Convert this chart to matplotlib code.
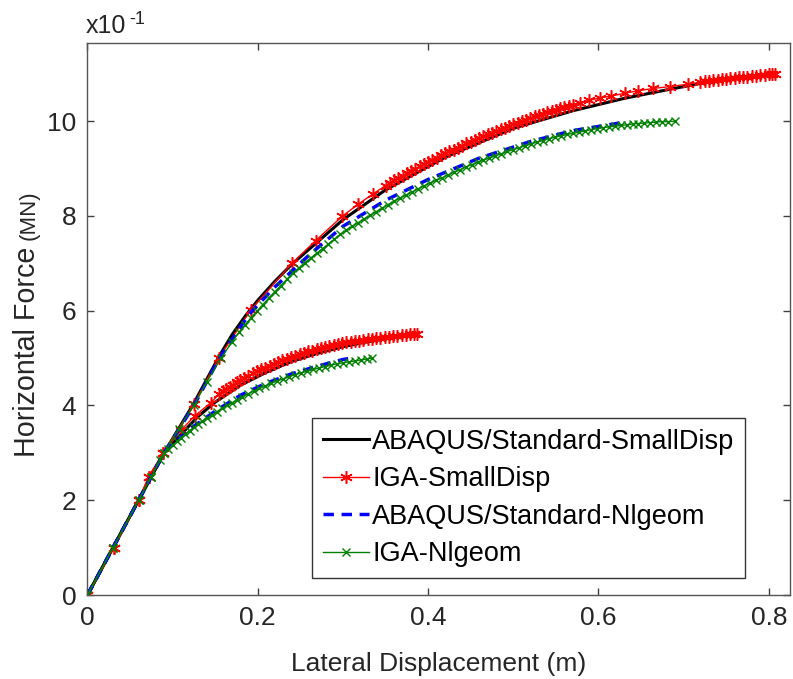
import matplotlib
matplotlib.use("Agg")
import matplotlib.pyplot as plt

plt.rcParams['font.family'] = ['Liberation Sans', 'DejaVu Sans']

# ---- data (force in units of 1e-1 MN) ----
# ABAQUS/Standard small displacement, high and low load
abq_sd_hi_x = [0, 0.03, 0.06, 0.09, 0.125, 0.155, 0.17, 0.185, 0.20, 0.22, 0.24, 0.27, 0.30, 0.35,
               0.42, 0.50, 0.57, 0.63, 0.68, 0.73, 0.80]
abq_sd_hi_y = [0, 1.0, 2.0, 3.0, 4.05, 5.05, 5.5, 5.88, 6.22, 6.62, 6.98, 7.45, 7.92, 8.55,
               9.24, 9.85, 10.22, 10.48, 10.66, 10.83, 11.0]
abq_sd_lo_x = [0, 0.03, 0.06, 0.09, 0.10, 0.113, 0.13, 0.15, 0.18, 0.21, 0.24, 0.27, 0.30, 0.33, 0.36, 0.375]
abq_sd_lo_y = [0, 1.0, 2.0, 3.0, 3.2, 3.45, 3.77, 4.07, 4.43, 4.70, 4.93, 5.10, 5.24, 5.35, 5.43, 5.46]

# IGA small displacement
iga_sd_hi_x = [0, 0.031, 0.060, 0.072, 0.089, 0.125, 0.154, 0.192, 0.240, 0.268, 0.299, 0.318, 0.335,
               0.350, 0.355, 0.360, 0.365, 0.370, 0.375, 0.380, 0.385, 0.390, 0.395, 0.400, 0.405,
               0.410, 0.415, 0.420, 0.425, 0.430, 0.435, 0.440, 0.445, 0.450, 0.455, 0.460, 0.465,
               0.470, 0.475, 0.480, 0.485, 0.490, 0.495, 0.500, 0.505, 0.510, 0.515, 0.520, 0.525,
               0.530, 0.535, 0.540, 0.545, 0.550, 0.555, 0.560, 0.565, 0.570,
               0.578, 0.589, 0.602, 0.615, 0.631, 0.646, 0.664, 0.684, 0.705, 0.719,
               0.725, 0.730, 0.735, 0.740, 0.745, 0.750, 0.755, 0.760, 0.765, 0.770, 0.775,
               0.780, 0.785, 0.790, 0.795, 0.800, 0.804, 0.807]
iga_sd_hi_y = [0, 1.0, 2.0, 2.5, 3.0, 4.03, 5.0, 6.02, 7.0, 7.48, 7.99, 8.25, 8.46,
               8.64, 8.69, 8.75, 8.80, 8.85, 8.90, 8.95, 9.00, 9.05, 9.09, 9.14, 9.19,
               9.23, 9.28, 9.32, 9.36, 9.40, 9.44, 9.48, 9.53, 9.57, 9.60, 9.64, 9.68,
               9.72, 9.76, 9.79, 9.83, 9.86, 9.90, 9.93, 9.97, 10.00, 10.03, 10.06, 10.10,
               10.13, 10.16, 10.19, 10.21, 10.24, 10.27, 10.30, 10.32, 10.35,
               10.39, 10.44, 10.49, 10.53, 10.59, 10.64, 10.69, 10.73, 10.78, 10.82,
               10.84, 10.85, 10.86, 10.87, 10.88, 10.90, 10.91, 10.92, 10.93, 10.93, 10.94,
               10.95, 10.96, 10.97, 10.98, 10.99, 11.0, 11.0]
iga_sd_lo_x = [0, 0.031, 0.060, 0.072, 0.089, 0.110, 0.126, 0.145,
               0.155, 0.159, 0.163, 0.167, 0.171, 0.175, 0.179, 0.184, 0.189, 0.194, 0.199,
               0.204, 0.209, 0.214, 0.219, 0.224, 0.229, 0.234, 0.239, 0.244, 0.249, 0.254,
               0.259, 0.264, 0.269, 0.274, 0.279, 0.284, 0.289, 0.294, 0.299, 0.304, 0.309,
               0.314, 0.319, 0.324, 0.329, 0.334, 0.339, 0.344, 0.349, 0.354, 0.359, 0.364,
               0.369, 0.374, 0.379, 0.384, 0.387]
iga_sd_lo_y = [0, 1.0, 2.0, 2.5, 3.0, 3.48, 3.78, 4.06,
               4.25, 4.30, 4.35, 4.40, 4.44, 4.49, 4.53, 4.58, 4.63, 4.68, 4.72,
               4.76, 4.80, 4.84, 4.88, 4.92, 4.95, 4.99, 5.02, 5.05, 5.08, 5.11,
               5.14, 5.16, 5.19, 5.21, 5.23, 5.25, 5.27, 5.29, 5.31, 5.33, 5.34,
               5.36, 5.37, 5.38, 5.40, 5.41, 5.42, 5.43, 5.44, 5.45, 5.46, 5.47,
               5.48, 5.49, 5.50, 5.51, 5.51]

# ABAQUS/Standard Nlgeom
abq_nl_hi_x = [0, 0.03, 0.06, 0.09, 0.125, 0.155, 0.19, 0.22, 0.26, 0.30, 0.35, 0.40, 0.46, 0.52, 0.57, 0.628]
abq_nl_hi_y = [0, 1.0, 2.0, 3.0, 4.0, 5.0, 5.93, 6.5, 7.17, 7.78, 8.33, 8.77, 9.22, 9.57, 9.80, 9.97]
abq_nl_lo_x = [0, 0.03, 0.06, 0.09, 0.10, 0.12, 0.15, 0.18, 0.21, 0.24, 0.27, 0.30, 0.31]
abq_nl_lo_y = [0, 1.0, 2.0, 3.0, 3.18, 3.50, 3.88, 4.22, 4.47, 4.67, 4.83, 4.97, 5.0]

# IGA Nlgeom
iga_nl_hi_x = [0, 0.03, 0.06, 0.075, 0.09, 0.107, 0.125, 0.14, 0.157, 0.17, 0.178,
               0.185, 0.192, 0.199, 0.206, 0.213, 0.220, 0.227, 0.234, 0.241, 0.248, 0.255,
               0.262, 0.269, 0.276, 0.283, 0.290, 0.297, 0.304, 0.311, 0.318, 0.325, 0.332,
               0.339, 0.346, 0.353, 0.360, 0.367, 0.374, 0.381, 0.388, 0.395, 0.402, 0.409,
               0.416, 0.423, 0.430, 0.437, 0.444, 0.451, 0.458, 0.465, 0.472, 0.479, 0.486,
               0.493, 0.500, 0.507, 0.514, 0.521, 0.528, 0.535, 0.542, 0.549, 0.556, 0.563,
               0.570, 0.577, 0.584, 0.591, 0.598, 0.605, 0.612, 0.619, 0.626, 0.633, 0.640,
               0.647, 0.654, 0.661, 0.668, 0.675, 0.682, 0.690]
iga_nl_hi_y = [0, 1.0, 2.0, 2.5, 3.0, 3.5, 4.0, 4.5, 5.0, 5.35, 5.55,
               5.70, 5.85, 5.99, 6.13, 6.27, 6.40, 6.53, 6.66, 6.79, 6.90, 7.01,
               7.11, 7.21, 7.31, 7.41, 7.51, 7.61, 7.70, 7.78, 7.86, 7.94, 8.01,
               8.09, 8.16, 8.24, 8.31, 8.38, 8.44, 8.50, 8.57, 8.63, 8.69, 8.75,
               8.80, 8.86, 8.92, 8.97, 9.03, 9.08, 9.13, 9.18, 9.22, 9.27, 9.31,
               9.36, 9.40, 9.44, 9.48, 9.52, 9.56, 9.59, 9.63, 9.66, 9.69, 9.72,
               9.74, 9.77, 9.79, 9.82, 9.84, 9.86, 9.88, 9.89, 9.91, 9.92, 9.94,
               9.95, 9.96, 9.97, 9.98, 9.99, 9.99, 10.0]
iga_nl_lo_x = [0, 0.03, 0.06, 0.075, 0.085,
               0.090, 0.095, 0.100, 0.105, 0.110, 0.115, 0.120, 0.125, 0.130, 0.135, 0.140,
               0.146, 0.152, 0.158, 0.164, 0.170, 0.176, 0.182, 0.188, 0.195, 0.202, 0.209,
               0.216, 0.223, 0.230, 0.237, 0.244, 0.251, 0.258, 0.265, 0.272, 0.279, 0.286,
               0.293, 0.300, 0.307, 0.314, 0.321, 0.328, 0.334]
iga_nl_lo_y = [0, 1.0, 2.0, 2.5, 2.85,
               3.00, 3.08, 3.16, 3.24, 3.32, 3.40, 3.47, 3.54, 3.60, 3.67, 3.73,
               3.80, 3.87, 3.94, 4.00, 4.06, 4.12, 4.18, 4.24, 4.30, 4.36, 4.41,
               4.47, 4.52, 4.56, 4.61, 4.65, 4.69, 4.72, 4.76, 4.79, 4.82, 4.85,
               4.88, 4.90, 4.92, 4.94, 4.96, 4.98, 5.00]

x_ticks = [0, 0.2, 0.4, 0.6, 0.8]
x_tick_labels = ['0', '0.2', '0.4', '0.6', '0.8']
y_ticks = [0, 2, 4, 6, 8, 10]

fig = plt.figure(figsize=(7.93, 6.79), dpi=100)
ax = fig.add_axes([0.1103, 0.1237, 0.886, 0.813])

asterisk = (6, 2, 0)
ax.plot(abq_sd_hi_x, abq_sd_hi_y, color='black', lw=2.2, label='ABAQUS/Standard-SmallDisp')
ax.plot(abq_sd_lo_x, abq_sd_lo_y, color='black', lw=2.2)
ax.plot(iga_sd_hi_x, iga_sd_hi_y, color='red', lw=1, marker=asterisk, ms=9, mew=1.1,
        label='IGA-SmallDisp')
ax.plot(iga_sd_lo_x, iga_sd_lo_y, color='red', lw=1, marker=asterisk, ms=9, mew=1.1)
ax.plot(abq_nl_hi_x, abq_nl_hi_y, color='blue', lw=2.5, ls=(0, (3, 2.2)),
        label='ABAQUS/Standard-Nlgeom')
ax.plot(abq_nl_lo_x, abq_nl_lo_y, color='blue', lw=2.5, ls=(0, (3, 2.2)))
ax.plot(iga_nl_hi_x, iga_nl_hi_y, color='green', lw=1, marker='x', ms=5.5, mew=1,
        label='IGA-Nlgeom')
ax.plot(iga_nl_lo_x, iga_nl_lo_y, color='green', lw=1, marker='x', ms=5.5, mew=1)

ax.set_xlim(0, 0.825)
ax.set_ylim(0, 11.65)
ax.set_xticks(x_ticks)
ax.set_xticklabels(x_tick_labels)
ax.set_yticks(y_ticks)
ax.tick_params(direction='in', top=True, right=True, length=5, width=1,
               labelsize=19, colors='#404040', labelcolor='#262626', pad=8)
for sp in ax.spines.values():
    sp.set_color('#555555')
    sp.set_linewidth(1)

ax.set_xlabel('Lateral Displacement (m)', fontsize=19, color='#262626', labelpad=16)

# y label with smaller unit, and exponent note
fig.text(35 / 793, 1 - 457 / 679, 'Horizontal Force', rotation=90, rotation_mode='anchor',
         ha='left', va='baseline', fontsize=20.6, color='#262626')
fig.text(35 / 793, 1 - 240 / 679, '(MN)', rotation=90, rotation_mode='anchor',
         ha='left', va='baseline', fontsize=16, color='#262626')
fig.text(86 / 793, 1 - 33 / 679, 'x10', ha='left', va='baseline', fontsize=18, color='#262626')
fig.text(129 / 793, 1 - 24 / 679, '-1', ha='left', va='baseline', fontsize=13, color='#262626')

leg = ax.legend(loc='lower right', bbox_to_anchor=(0.936, 0.031), fontsize=19.5,
                frameon=True, fancybox=False, framealpha=1, edgecolor='#333333',
                handlelength=1.7, handletextpad=0.1, labelspacing=0.42, borderpad=0.4,
                borderaxespad=0)
leg.get_frame().set_linewidth(1)

fig.savefig('out.png', dpi=100)
